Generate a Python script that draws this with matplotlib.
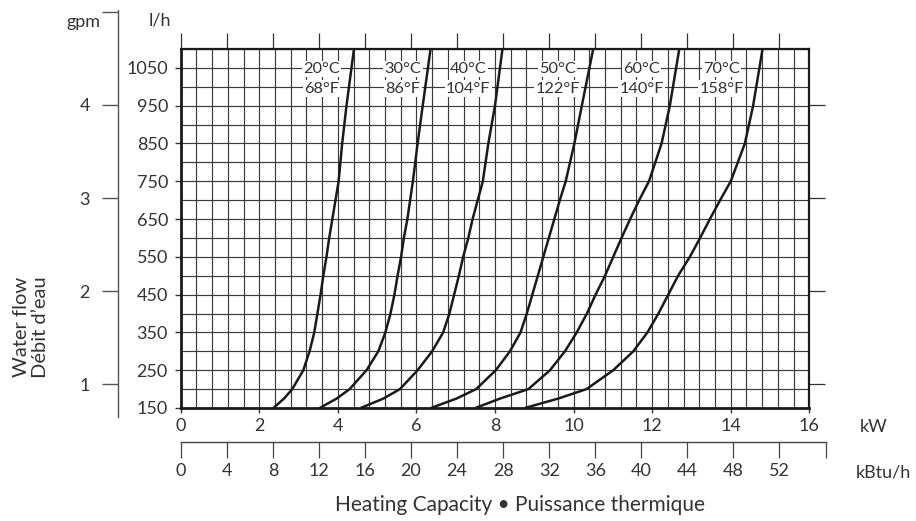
import matplotlib

matplotlib.use("Agg")
import matplotlib.pyplot as plt
import numpy as np

plt.rcParams["font.family"] = ["Lato", "DejaVu Sans"]

W, H = 916, 521
TEXT = "#333333"
GRID = "#3a3a3a"
KBTU_PER_KW = 3.412
FS = 13

# water flow (l/h) at which each curve was read
flow_lh = [150, 175, 200, 250, 300, 350, 400, 450, 500, 550, 600, 650, 700, 750, 850, 950, 1100]

# heating capacity (kW) per supply water temperature
kw_20c = [2.36, 2.63, 2.84, 3.12, 3.28, 3.40, 3.48, 3.56, 3.63, 3.71, 3.78, 3.86, 3.94, 4.02, 4.11, 4.22, 4.41]
kw_30c = [3.54, 3.97, 4.30, 4.73, 5.03, 5.21, 5.34, 5.44, 5.52, 5.61, 5.68, 5.77, 5.84, 5.91, 6.03, 6.16, 6.36]
kw_40c = [4.58, 5.16, 5.58, 6.03, 6.40, 6.68, 6.84, 6.96, 7.08, 7.19, 7.32, 7.43, 7.56, 7.69, 7.83, 8.00, 8.19]
kw_50c = [6.37, 7.02, 7.52, 8.02, 8.38, 8.65, 8.81, 8.95, 9.09, 9.23, 9.37, 9.51, 9.65, 9.80, 10.02, 10.21, 10.50]
kw_60c = [7.50, 8.13, 8.85, 9.40, 9.78, 10.08, 10.34, 10.56, 10.80, 11.01, 11.22, 11.44, 11.67, 11.92, 12.24, 12.45, 12.69]
kw_70c = [8.76, 9.61, 10.33, 11.01, 11.52, 11.88, 12.16, 12.41, 12.66, 12.96, 13.22, 13.47, 13.73, 14.00, 14.36, 14.57, 14.81]

curves = [kw_20c, kw_30c, kw_40c, kw_50c, kw_60c, kw_70c]
temp_c_labels = ["20°C", "30°C", "40°C", "50°C", "60°C", "70°C"]
temp_f_labels = ["68°F", "86°F", "104°F", "122°F", "140°F", "158°F"]
label_kw = [3.58, 5.66, 7.32, 9.59, 11.73, 13.77]

kw_ticks = list(range(0, 17, 2))
lh_ticks = list(range(150, 1051, 100))
kbtu_ticks = list(range(0, 57, 4))
gpm_ticks = [1, 2, 3, 4, 5]
gpm_labels = ["1", "2", "3", "4", ""]

# the gpm scale in the source is not exactly 227 l/h per gpm
GPM0_LH, LH_PER_GPM = 212.5, 246.6


def lh_to_gpm(v):
    return 1 + (np.asarray(v) - GPM0_LH) / LH_PER_GPM


def gpm_to_lh(g):
    return GPM0_LH + (np.asarray(g) - 1) * LH_PER_GPM


def fx(px):
    return px / W


def fy(py):
    return 1 - py / H


fig = plt.figure(figsize=(W / 100, H / 100), dpi=100)

# main grid
x0, x1, y0, y1 = 180.7, 809.3, 408.0, 49.0
ax = fig.add_axes([fx(x0), fy(y0), fx(x1) - fx(x0), fy(y1) - fy(y0)])
ax.set_xlim(0, 16)
ax.set_ylim(150, 1100)
ax.set_xticks(kw_ticks)
ax.set_xticks(np.arange(0, 16.01, 0.4), minor=True)
ax.set_yticks(lh_ticks)
ax.set_yticks(np.arange(150, 1101, 50), minor=True)
ax.grid(which="both", color=GRID, linewidth=0.85)
ax.set_axisbelow(True)
ax.tick_params(which="minor", length=0)
ax.tick_params(axis="x", which="major", length=3.6, width=1.0, color=TEXT,
               labelsize=FS, labelcolor=TEXT, pad=3.5)
ax.tick_params(axis="y", which="major", length=4.2, width=1.0, color=TEXT,
               labelsize=FS, labelcolor=TEXT, pad=5.0)
for side, lw in [("left", 2.0), ("bottom", 2.0), ("top", 1.6), ("right", 1.6)]:
    ax.spines[side].set_linewidth(lw)
    ax.spines[side].set_color("#1a1a1a")

for kw in curves:
    ax.plot(kw, flow_lh, color="#1a1a1a", linewidth=1.8, solid_capstyle="butt", zorder=3)

box = dict(facecolor="white", edgecolor="none", pad=1.0)
for xk, tc, tf in zip(label_kw, temp_c_labels, temp_f_labels):
    ax.text(xk, 1047, tc, ha="center", va="center", fontsize=11.8, color=TEXT, bbox=box, zorder=4)
    ax.text(xk, 995, tf, ha="center", va="center", fontsize=11.8, color=TEXT, bbox=box, zorder=4)

# kBtu/h ticks above the grid
top = ax.secondary_xaxis("top", functions=(lambda k: k * KBTU_PER_KW, lambda b: b / KBTU_PER_KW))
top.set_xticks(kbtu_ticks[:-1])
top.tick_params(length=11.5, width=0.9, color=TEXT, labeltop=False)
top.spines["top"].set_visible(False)

# gpm ticks on the right of the grid
right = ax.secondary_yaxis("right", functions=(lh_to_gpm, gpm_to_lh))
right.set_yticks(gpm_ticks[:-1])
right.tick_params(length=11.5, width=0.9, color=TEXT, labelright=False)
right.spines["right"].set_visible(False)

# gpm scale on the left
g_bot, g_top = 417.3, 10.0
ax_g = fig.add_axes([fx(118.3), fy(g_bot), 0.0001, fy(g_top) - fy(g_bot)])
ax_g.set_ylim(lh_to_gpm(150 - (g_bot - y0) * 950 / (y0 - y1)),
              lh_to_gpm(1100 + (y1 - g_top) * 950 / (y0 - y1)))
ax_g.set_yticks(gpm_ticks)
ax_g.set_yticklabels(gpm_labels)
ax_g.set_xticks([])
for side in ["right", "top", "bottom"]:
    ax_g.spines[side].set_visible(False)
ax_g.spines["left"].set_color("#555555")
ax_g.spines["left"].set_linewidth(1.0)
ax_g.tick_params(axis="y", length=11.5, width=1.0, color="#555555",
                 labelsize=FS, labelcolor=TEXT, pad=9.0)
ax_g.patch.set_visible(False)

# kBtu/h scale below
k_w = (fx(x1) - fx(x0)) * (kbtu_ticks[-1] / KBTU_PER_KW) / 16
ax_k = fig.add_axes([fx(x0), fy(441.7), k_w, 0.0001])
ax_k.set_xlim(0, kbtu_ticks[-1])
ax_k.set_xticks(kbtu_ticks)
ax_k.set_xticklabels([str(v) for v in kbtu_ticks[:-1]] + [""])
ax_k.set_yticks([])
for side in ["left", "right", "top"]:
    ax_k.spines[side].set_visible(False)
ax_k.spines["bottom"].set_color("#444444")
ax_k.spines["bottom"].set_linewidth(1.0)
ax_k.tick_params(axis="x", length=11.5, width=0.9, color="#444444",
                 labelsize=FS, labelcolor=TEXT, pad=3.5)
ax_k.patch.set_visible(False)

# axis titles
fig.text(fx(83.3), fy(22), "gpm", ha="center", va="center", fontsize=FS, color=TEXT)
fig.text(fx(160), fy(21), "l/h", ha="center", va="center", fontsize=FS, color=TEXT)
fig.text(fx(860), fy(427), "kW", ha="left", va="center", fontsize=FS, color=TEXT)
fig.text(fx(856), fy(473), "kBtu/h", ha="left", va="center", fontsize=FS, color=TEXT)
fig.text(fx(31), fy(327), "Water flow\nDébit d\u2019eau", ha="center", va="center",
         rotation=90, fontsize=14.5, color=TEXT, linespacing=1.2)
fig.text(fx(520), fy(511), "Heating Capacity \u2022 Puissance thermique", ha="center",
         va="baseline", fontsize=15, color=TEXT)

fig.savefig("out.png", dpi=100)
